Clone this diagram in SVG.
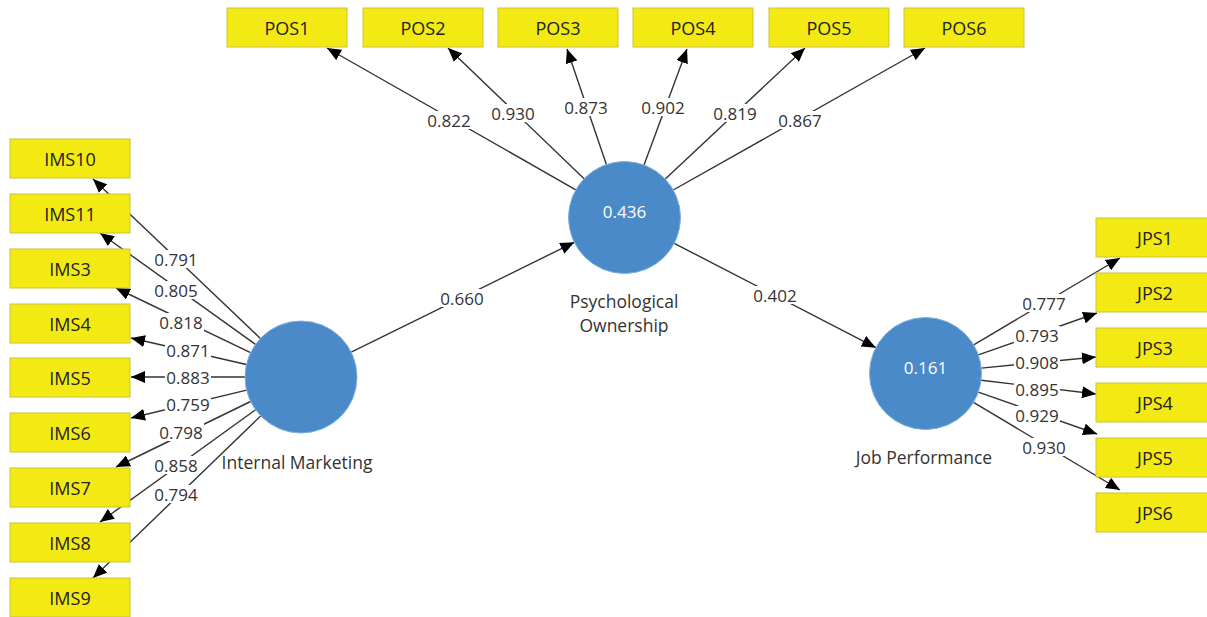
<svg xmlns="http://www.w3.org/2000/svg" width="1207" height="617" viewBox="0 0 1207 617">
<defs>
<marker id="ah" viewBox="0 0 14 12" refX="14" refY="6" markerWidth="14" markerHeight="12" markerUnits="userSpaceOnUse" orient="auto">
<path d="M0,0 L14,6 L0,12 z" fill="#000"/>
</marker>
<style>
.bg{fill:#fff}
.ln{stroke:#333;stroke-width:1.4;fill:none;marker-end:url(#ah)}
.box{fill:#F2EA12;stroke:#C9C33A;stroke-width:1}
.bt{font-family:"Open Sans","Noto Sans",sans-serif;font-size:18px;fill:#222;text-anchor:middle;dominant-baseline:central}
.lb{fill:#fff}
.cl{font-family:"Open Sans","Noto Sans",sans-serif;font-size:17px;fill:#333;text-anchor:middle;dominant-baseline:central}
.lv{fill:#4A8AC8;stroke:#7FB0DE;stroke-width:1}
.lvt{font-family:"Open Sans","Noto Sans",sans-serif;font-size:17px;fill:#fff;text-anchor:middle;dominant-baseline:central}
.nm{font-family:"Open Sans","Noto Sans",sans-serif;font-size:17.5px;fill:#333;text-anchor:middle;dominant-baseline:central}
</style>
</defs>
<rect class="bg" x="0" y="0" width="1207" height="617"/>
<g id="connectors">
<line class="ln" x1="260.4" y1="338.4" x2="93" y2="179"/>
<line class="ln" x1="255.5" y1="344.4" x2="100" y2="233"/>
<line class="ln" x1="250.5" y1="352.7" x2="116" y2="288"/>
<line class="ln" x1="246.4" y1="364.5" x2="131" y2="338"/>
<line class="ln" x1="245" y1="377" x2="131" y2="377"/>
<line class="ln" x1="246.6" y1="390.1" x2="131" y2="418"/>
<line class="ln" x1="250.6" y1="401.5" x2="116" y2="467"/>
<line class="ln" x1="255.6" y1="409.8" x2="100" y2="522"/>
<line class="ln" x1="260.7" y1="415.9" x2="93" y2="578"/>
<line class="ln" x1="575.8" y1="189.8" x2="327" y2="48"/>
<line class="ln" x1="584.1" y1="178.7" x2="448" y2="48"/>
<line class="ln" x1="606.4" y1="164.5" x2="567" y2="49"/>
<line class="ln" x1="644" y1="165" x2="687" y2="49"/>
<line class="ln" x1="665.3" y1="179.1" x2="805" y2="48"/>
<line class="ln" x1="673.3" y1="190" x2="925" y2="48"/>
<line class="ln" x1="351.2" y1="352.2" x2="574.3" y2="242.3"/>
<line class="ln" x1="674.2" y1="243.3" x2="875.8" y2="347.7"/>
<line class="ln" x1="973.7" y1="344.9" x2="1120" y2="258"/>
<line class="ln" x1="978.3" y1="354.9" x2="1097" y2="313"/>
<line class="ln" x1="981.2" y1="368.1" x2="1096" y2="357"/>
<line class="ln" x1="981.1" y1="380.2" x2="1096" y2="394"/>
<line class="ln" x1="978.3" y1="392.1" x2="1097" y2="434"/>
<line class="ln" x1="973.5" y1="402.3" x2="1120" y2="490"/>
<g id="coef-bg">
<rect class="lb" x="153" y="250" width="46" height="18"/>
<rect class="lb" x="153" y="281" width="46" height="18"/>
<rect class="lb" x="158" y="313" width="46" height="18"/>
<rect class="lb" x="165" y="341" width="46" height="18"/>
<rect class="lb" x="165" y="368" width="46" height="18"/>
<rect class="lb" x="165" y="395" width="46" height="18"/>
<rect class="lb" x="158" y="423" width="46" height="18"/>
<rect class="lb" x="153" y="456" width="46" height="18"/>
<rect class="lb" x="153" y="485" width="46" height="18"/>
<rect class="lb" x="426" y="111" width="46" height="18"/>
<rect class="lb" x="490" y="104" width="46" height="18"/>
<rect class="lb" x="563" y="98" width="46" height="18"/>
<rect class="lb" x="640" y="98" width="46" height="18"/>
<rect class="lb" x="712" y="104" width="46" height="18"/>
<rect class="lb" x="777" y="111" width="46" height="18"/>
<rect class="lb" x="439" y="289" width="46" height="18"/>
<rect class="lb" x="752" y="286" width="46" height="18"/>
<rect class="lb" x="1021" y="294" width="46" height="18"/>
<rect class="lb" x="1014" y="326" width="46" height="18"/>
<rect class="lb" x="1014" y="353" width="46" height="18"/>
<rect class="lb" x="1014" y="380" width="46" height="18"/>
<rect class="lb" x="1014" y="406" width="46" height="18"/>
<rect class="lb" x="1021" y="438" width="46" height="18"/>
</g>
<g id="coef">
<text class="cl" x="176" y="259">0.791</text>
<text class="cl" x="176" y="290">0.805</text>
<text class="cl" x="181" y="322">0.818</text>
<text class="cl" x="188" y="350">0.871</text>
<text class="cl" x="188" y="377">0.883</text>
<text class="cl" x="188" y="404">0.759</text>
<text class="cl" x="181" y="432">0.798</text>
<text class="cl" x="176" y="465">0.858</text>
<text class="cl" x="176" y="494">0.794</text>
<text class="cl" x="449" y="120">0.822</text>
<text class="cl" x="513" y="113">0.930</text>
<text class="cl" x="586" y="107">0.873</text>
<text class="cl" x="663" y="107">0.902</text>
<text class="cl" x="735" y="113">0.819</text>
<text class="cl" x="800" y="120">0.867</text>
<text class="cl" x="462" y="298">0.660</text>
<text class="cl" x="775" y="295">0.402</text>
<text class="cl" x="1044" y="303">0.777</text>
<text class="cl" x="1037" y="335">0.793</text>
<text class="cl" x="1037" y="362">0.908</text>
<text class="cl" x="1037" y="389">0.895</text>
<text class="cl" x="1037" y="415">0.929</text>
<text class="cl" x="1044" y="447">0.930</text>
</g>
</g>
<g id="IMS10"><rect class="box" x="10" y="139" width="120" height="39"/><text class="bt" x="70" y="158.5">IMS10</text></g>
<g id="IMS11"><rect class="box" x="10" y="194" width="120" height="39"/><text class="bt" x="70" y="213.5">IMS11</text></g>
<g id="IMS3"><rect class="box" x="10" y="249" width="120" height="39"/><text class="bt" x="70" y="268.5">IMS3</text></g>
<g id="IMS4"><rect class="box" x="10" y="304" width="120" height="39"/><text class="bt" x="70" y="323.5">IMS4</text></g>
<g id="IMS5"><rect class="box" x="10" y="358" width="120" height="39"/><text class="bt" x="70" y="377.5">IMS5</text></g>
<g id="IMS6"><rect class="box" x="10" y="413" width="120" height="39"/><text class="bt" x="70" y="432.5">IMS6</text></g>
<g id="IMS7"><rect class="box" x="10" y="468" width="120" height="39"/><text class="bt" x="70" y="487.5">IMS7</text></g>
<g id="IMS8"><rect class="box" x="10" y="523" width="120" height="39"/><text class="bt" x="70" y="542.5">IMS8</text></g>
<g id="IMS9"><rect class="box" x="10" y="578" width="120" height="39"/><text class="bt" x="70" y="597.5">IMS9</text></g>
<g id="POS1"><rect class="box" x="227" y="8" width="120" height="39"/><text class="bt" x="287" y="27.5">POS1</text></g>
<g id="POS2"><rect class="box" x="363" y="8" width="120" height="39"/><text class="bt" x="423" y="27.5">POS2</text></g>
<g id="POS3"><rect class="box" x="498" y="8" width="120" height="39"/><text class="bt" x="558" y="27.5">POS3</text></g>
<g id="POS4"><rect class="box" x="633" y="8" width="120" height="39"/><text class="bt" x="693" y="27.5">POS4</text></g>
<g id="POS5"><rect class="box" x="769" y="8" width="120" height="39"/><text class="bt" x="829" y="27.5">POS5</text></g>
<g id="POS6"><rect class="box" x="904" y="8" width="120" height="39"/><text class="bt" x="964" y="27.5">POS6</text></g>
<g id="JPS1"><rect class="box" x="1096" y="218" width="120" height="39"/><text class="bt" x="1155" y="237.5">JPS1</text></g>
<g id="JPS2"><rect class="box" x="1096" y="273" width="120" height="39"/><text class="bt" x="1155" y="292.5">JPS2</text></g>
<g id="JPS3"><rect class="box" x="1096" y="328" width="120" height="39"/><text class="bt" x="1155" y="347.5">JPS3</text></g>
<g id="JPS4"><rect class="box" x="1096" y="383" width="120" height="39"/><text class="bt" x="1155" y="402.5">JPS4</text></g>
<g id="JPS5"><rect class="box" x="1096" y="438" width="120" height="39"/><text class="bt" x="1155" y="457.5">JPS5</text></g>
<g id="JPS6"><rect class="box" x="1096" y="493" width="120" height="39"/><text class="bt" x="1155" y="512.5">JPS6</text></g>
<g id="InternalMarketing"><circle class="lv" cx="301" cy="377" r="56"/><text class="nm" x="297" y="462">Internal Marketing</text></g>
<g id="PsychologicalOwnership"><circle class="lv" cx="624.5" cy="217.5" r="56"/><text class="lvt" x="624.5" y="211">0.436</text><text class="nm" x="624" y="301">Psychological</text><text class="nm" x="624" y="325">Ownership</text></g>
<g id="JobPerformance"><circle class="lv" cx="925.5" cy="373.5" r="56"/><text class="lvt" x="925.5" y="367">0.161</text><text class="nm" x="924" y="457">Job Performance</text></g>
</svg>
